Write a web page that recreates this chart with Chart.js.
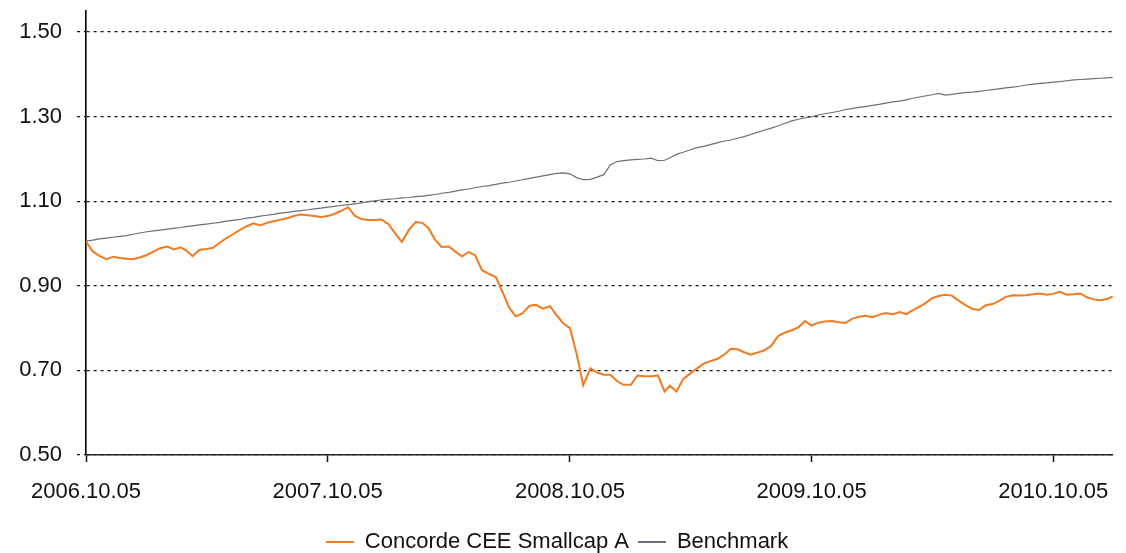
<!DOCTYPE html>
<html>
<head>
<meta charset="utf-8">
<script src="https://cdn.jsdelivr.net/npm/chart.js@4.4.1/dist/chart.umd.min.js"></script>
<style>
  html, body { margin: 0; padding: 0; background: #fff; }
  #wrap { width: 1126px; height: 553px; }
</style>
</head>
<body>
<div id="wrap"><canvas id="graphCanvas" width="1126" height="553"></canvas></div>
<script>
// dates (3 per month)
var dates = [
  '2006.10.05','2006.10.15','2006.10.25','2006.11.05','2006.11.15','2006.11.25','2006.12.05','2006.12.15','2006.12.25',
  '2007.01.05','2007.01.15','2007.01.25','2007.02.05','2007.02.15','2007.02.25','2007.03.05','2007.03.15','2007.03.25',
  '2007.04.05','2007.04.15','2007.04.25','2007.05.05','2007.05.15','2007.05.25','2007.06.05','2007.06.15','2007.06.25',
  '2007.07.05','2007.07.15','2007.07.25','2007.08.05','2007.08.15','2007.08.25','2007.09.05','2007.09.15','2007.09.25',
  '2007.10.05','2007.10.15','2007.10.25','2007.11.05','2007.11.15','2007.11.25','2007.12.05','2007.12.15','2007.12.25',
  '2008.01.05','2008.01.15','2008.01.25','2008.02.05','2008.02.15','2008.02.25','2008.03.05','2008.03.15','2008.03.25',
  '2008.04.05','2008.04.15','2008.04.25','2008.05.05','2008.05.15','2008.05.25','2008.06.05','2008.06.15','2008.06.25',
  '2008.07.05','2008.07.15','2008.07.25','2008.08.05','2008.08.15','2008.08.25','2008.09.05','2008.09.15','2008.09.25',
  '2008.10.05','2008.10.15','2008.10.25','2008.11.05','2008.11.15','2008.11.25','2008.12.05','2008.12.15','2008.12.25',
  '2009.01.05','2009.01.15','2009.01.25','2009.02.05','2009.02.15','2009.02.25','2009.03.05','2009.03.15','2009.03.25',
  '2009.04.05','2009.04.15','2009.04.25','2009.05.05','2009.05.15','2009.05.25','2009.06.05','2009.06.15','2009.06.25',
  '2009.07.05','2009.07.15','2009.07.25','2009.08.05','2009.08.15','2009.08.25','2009.09.05','2009.09.15','2009.09.25',
  '2009.10.05','2009.10.15','2009.10.25','2009.11.05','2009.11.15','2009.11.25','2009.12.05','2009.12.15','2009.12.25',
  '2010.01.05','2010.01.15','2010.01.25','2010.02.05','2010.02.15','2010.02.25','2010.03.05','2010.03.15','2010.03.25',
  '2010.04.05','2010.04.15','2010.04.25','2010.05.05','2010.05.15','2010.05.25','2010.06.05','2010.06.15','2010.06.25',
  '2010.07.05','2010.07.15','2010.07.25','2010.08.05','2010.08.15','2010.08.25','2010.09.05','2010.09.15','2010.09.25',
  '2010.10.05','2010.10.15','2010.10.25','2010.11.05','2010.11.15','2010.11.25','2010.12.05','2010.12.15','2010.12.25',
  '2011.01.03'
];

var concorde = [
  1.005, 0.982, 0.971, 0.963, 0.969, 0.966, 0.964, 0.963, 0.967,
  0.973, 0.981, 0.989, 0.993, 0.986, 0.991, 0.984, 0.970, 0.985,
  0.987, 0.990, 1.002, 1.013, 1.022, 1.032, 1.041, 1.048, 1.043,
  1.049, 1.053, 1.056, 1.060, 1.065, 1.069, 1.067, 1.065, 1.063,
  1.065, 1.070, 1.077, 1.086, 1.066, 1.058, 1.056, 1.056, 1.057,
  1.046, 1.024, 1.004, 1.033, 1.051, 1.049, 1.037, 1.010, 0.992,
  0.993, 0.981, 0.970, 0.980, 0.972, 0.937, 0.928, 0.921, 0.886,
  0.849, 0.828, 0.835, 0.853, 0.855, 0.846, 0.852, 0.830, 0.811,
  0.800, 0.740, 0.665, 0.705, 0.695, 0.690, 0.690, 0.675, 0.666,
  0.666, 0.688, 0.686, 0.686, 0.688, 0.650, 0.664, 0.650, 0.680,
  0.693, 0.705, 0.716, 0.722, 0.727, 0.736, 0.751, 0.750, 0.743,
  0.737, 0.742, 0.747, 0.758, 0.781, 0.789, 0.795, 0.802, 0.817,
  0.806, 0.813, 0.816, 0.817, 0.814, 0.812, 0.822, 0.827, 0.829,
  0.826, 0.832, 0.836, 0.833, 0.838, 0.833, 0.841, 0.849, 0.858,
  0.871, 0.876, 0.879, 0.877, 0.865, 0.855, 0.845, 0.843, 0.854,
  0.857, 0.864, 0.874, 0.878, 0.877, 0.878, 0.880, 0.882, 0.879,
  0.881, 0.886, 0.879, 0.880, 0.882, 0.873, 0.868, 0.866, 0.869,
  0.875
];

var benchmark = [
  1.006, 1.008, 1.011, 1.013, 1.015, 1.017, 1.019, 1.022, 1.025,
  1.028, 1.030, 1.032, 1.034, 1.036, 1.038, 1.040, 1.042, 1.044,
  1.046, 1.048, 1.050, 1.053, 1.055, 1.057, 1.060, 1.062, 1.065,
  1.067, 1.069, 1.072, 1.074, 1.076, 1.078, 1.080, 1.082, 1.084,
  1.086, 1.088, 1.090, 1.092, 1.094, 1.096, 1.099, 1.101, 1.103,
  1.105, 1.106, 1.108, 1.109, 1.111, 1.112, 1.114, 1.116, 1.119,
  1.121, 1.124, 1.127, 1.129, 1.132, 1.135, 1.137, 1.140, 1.143,
  1.145, 1.148, 1.151, 1.154, 1.157, 1.160, 1.163, 1.166, 1.167,
  1.165, 1.156, 1.151, 1.152, 1.157, 1.163, 1.186, 1.194, 1.196,
  1.198, 1.199, 1.200, 1.202, 1.196, 1.197, 1.203, 1.211, 1.216,
  1.222, 1.227, 1.230, 1.234, 1.238, 1.242, 1.245, 1.249, 1.253,
  1.258, 1.263, 1.268, 1.273, 1.278, 1.284, 1.290, 1.294, 1.297,
  1.300, 1.304, 1.307, 1.310, 1.313, 1.317, 1.319, 1.322, 1.324,
  1.327, 1.329, 1.332, 1.335, 1.337, 1.340, 1.343, 1.346, 1.349,
  1.352, 1.355, 1.351, 1.353, 1.355, 1.357, 1.358, 1.360, 1.362,
  1.364, 1.366, 1.368, 1.370, 1.372, 1.375, 1.377, 1.379, 1.380,
  1.382, 1.383, 1.385, 1.387, 1.388, 1.389, 1.390, 1.391, 1.392,
  1.393
];

var xTickLabels = ['2006.10.05', '2007.10.05', '2008.10.05', '2009.10.05', '2010.10.05'];
var yTicks = [0.50, 0.70, 0.90, 1.10, 1.30, 1.50];
var seriesNames = ['Concorde CEE Smallcap A', 'Benchmark'];

function toDays(s) {
    var p = s.split('.');
    var t0 = Date.UTC(2006, 9, 5);
    return Math.round((Date.UTC(+p[0], +p[1] - 1, +p[2]) - t0) / 86400000);
}

function toPoints(vals) {
    var pts = [];
    for (var i = 0; i < vals.length; i++) {
        pts.push({ x: toDays(dates[i]), y: vals[i] });
    }
    return pts;
}

var xTickDays = xTickLabels.map(toDays);
var font = "'Liberation Sans', Arial, sans-serif";

var chartdata = {
    datasets: [
        {
            label: seriesNames[0],
            data: toPoints(concorde),
            borderColor: '#f27b20',
            backgroundColor: '#f27b20',
            borderWidth: 2,
            pointRadius: 0,
            tension: 0
        },
        {
            label: seriesNames[1],
            data: toPoints(benchmark),
            borderColor: '#6e6e78',
            backgroundColor: '#6e6e78',
            borderWidth: 1.2,
            pointRadius: 0,
            tension: 0
        }
    ]
};

var lineGraph = new Chart(document.getElementById('graphCanvas'), {
    type: 'line',
    data: chartdata,
    options: {
        responsive: false,
        animation: false,
        layout: { padding: { top: 11, right: 12, left: 0, bottom: -10 } },
        plugins: {
            tooltip: { enabled: false },
            legend: {
                position: 'bottom',
                labels: {
                    boxWidth: 28,
                    boxHeight: 2,
                    padding: 9,
                    color: '#111',
                    font: { family: font, size: 22 },
                    generateLabels: function (chart) {
                        return Chart.defaults.plugins.legend.labels.generateLabels(chart).map(function (l) {
                            l.lineWidth = 0;
                            l.fillStyle = l.strokeStyle;
                            return l;
                        });
                    }
                }
            }
        },
        scales: {
            x: {
                type: 'linear',
                min: 0,
                max: toDays(dates[dates.length - 1]),
                afterBuildTicks: function (scale) {
                    scale.ticks = xTickDays.map(function (v) { return { value: v }; });
                },
                afterFit: function (scale) { scale.height = 67; },
                ticks: {
                    autoSkip: false,
                    maxRotation: 0,
                    padding: 17,
                    color: '#111',
                    font: { family: font, size: 22 },
                    callback: function (v) {
                        var i = xTickDays.indexOf(v);
                        return i >= 0 ? xTickLabels[i] : '';
                    }
                },
                grid: {
                    drawOnChartArea: false,
                    drawTicks: true,
                    tickLength: 7,
                    tickColor: '#111',
                    tickWidth: 1.5
                },
                border: { display: true, color: '#222', width: 1.5 }
            },
            y: {
                min: 0.5,
                max: 1.55,
                afterBuildTicks: function (scale) {
                    scale.ticks = yTicks.map(function (v) { return { value: v }; });
                },
                afterFit: function (scale) {
                    scale.width = 86;
                    scale.paddingTop = 0;
                    scale.paddingBottom = 0;
                },
                ticks: {
                    padding: 15,
                    color: '#111',
                    font: { family: font, size: 22 },
                    callback: function (v) { return v.toFixed(2); }
                },
                grid: {
                    color: '#111',
                    lineWidth: 1.3,
                    tickLength: 9,
                    tickColor: '#111',
                    tickWidth: 1.3,
                    tickBorderDash: [3, 4]
                },
                border: { display: true, color: '#000', width: 1.6, dash: [3, 4] }
            }
        }
    }
});
</script>
</body>
</html>
